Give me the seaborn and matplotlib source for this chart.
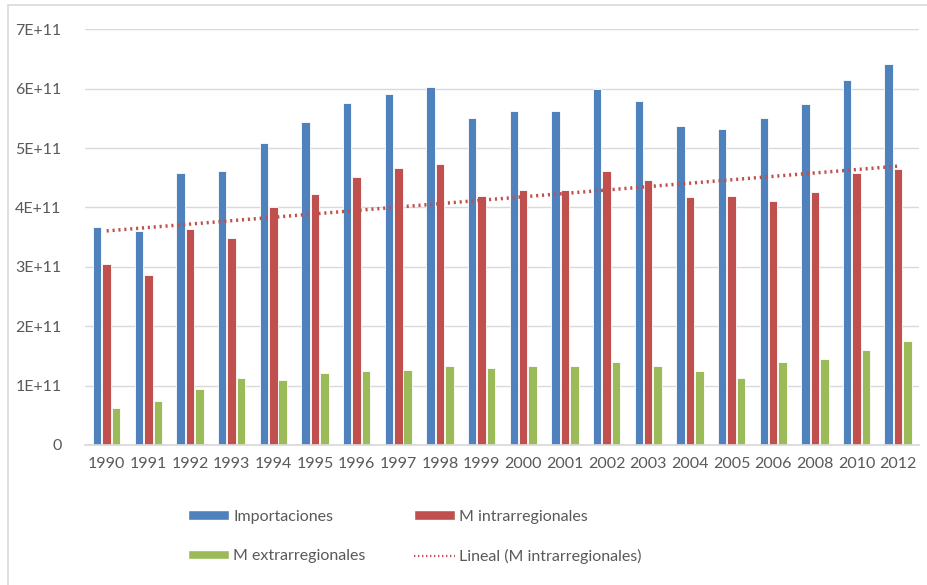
import numpy as np
import pandas as pd
import seaborn as sns
import matplotlib.pyplot as plt
from matplotlib.ticker import FuncFormatter, MultipleLocator
from matplotlib.patches import Rectangle, Patch
from matplotlib.lines import Line2D

years = ["1990", "1991", "1992", "1993", "1994", "1995", "1996", "1997", "1998", "1999",
         "2000", "2001", "2002", "2003", "2004", "2005", "2006", "2008", "2010", "2012"]
importaciones = [3.67, 3.61, 4.58, 4.61, 5.08, 5.44, 5.76, 5.91, 6.03, 5.50,
                 5.62, 5.62, 6.00, 5.80, 5.38, 5.32, 5.50, 5.74, 6.15, 6.42]
intrarregionales = [3.05, 2.87, 3.64, 3.49, 4.00, 4.23, 4.52, 4.67, 4.73, 4.20,
                    4.29, 4.29, 4.61, 4.46, 4.17, 4.20, 4.11, 4.26, 4.58, 4.64]
extrarregionales = [0.62, 0.735, 0.95, 1.12, 1.09, 1.21, 1.24, 1.27, 1.33, 1.30,
                    1.33, 1.33, 1.39, 1.33, 1.24, 1.12, 1.39, 1.45, 1.60, 1.75]
series_names = ["Importaciones", "M intrarregionales", "M extrarregionales"]
trend_label = "Lineal (M intrarregionales)"
scale = 1e11

colors = ["#4F81BD", "#C0504D", "#9BBB59"]
text_color = "#595959"

df = pd.DataFrame({
    "year": years * 3,
    "serie": np.repeat(series_names, len(years)),
    "value": np.array(importaciones + intrarregionales + extrarregionales) * scale,
})

sns.set_theme(style="white")
plt.rcParams["font.family"] = ["Lato", "DejaVu Sans"]

fig = plt.figure(figsize=(9.28, 5.85), dpi=100)
ax = fig.add_axes([85 / 928, 1 - 445 / 585, (919 - 85) / 928, (445 - 29.3) / 585])

sns.barplot(data=df, x="year", y="value", hue="serie", palette=colors,
            width=0.68, gap=0.1, edgecolor="white", linewidth=0.6,
            saturation=1, legend=False, ax=ax)

# linear trend of the intra-regional series across category positions
xi = np.arange(len(years))
sns.regplot(x=xi, y=np.array(intrarregionales) * scale, scatter=False, ci=None,
            truncate=True, ax=ax,
            line_kws=dict(color="#C0504D", lw=2.5, ls=(0, (0.6, 1.1)), zorder=5))

ax.set_xlim(-0.52, len(years) - 0.5)
ax.set_ylim(0, 7 * scale)
ax.yaxis.set_major_locator(MultipleLocator(scale))
ax.yaxis.set_major_formatter(FuncFormatter(
    lambda v, p: "0" if v == 0 else f"{int(round(v / scale))}E+11"))
ax.grid(axis="y", color="#D9D9D9", lw=1)
ax.set_axisbelow(True)
for s in ["top", "right", "left"]:
    ax.spines[s].set_visible(False)
ax.spines["bottom"].set_color("#D9D9D9")
ax.set_xlabel("")
ax.set_ylabel("")
ax.tick_params(axis="y", length=0, pad=17, labelsize=11.5, labelcolor=text_color)
ax.tick_params(axis="x", length=0, pad=9, labelsize=11.5, labelcolor=text_color)

handles = [
    Patch(facecolor=colors[0]), Patch(facecolor=colors[2]),
    Patch(facecolor=colors[1]),
    Line2D([], [], color="#C0504D", lw=1.6, ls=(0, (0.6, 1.2))),
]
labels = [series_names[0], series_names[2], series_names[1], trend_label]
fig.legend(handles, labels, ncol=2, loc="center", bbox_to_anchor=(0.447, 1 - 537 / 585),
           frameon=False, fontsize=11.5, labelcolor=text_color,
           handlelength=2.6, handleheight=0.5, handletextpad=0.25,
           columnspacing=3.0, labelspacing=1.6)

# chart frame
fig.patches.append(Rectangle((8 / 928, -0.05), 1.0, 1 - 5 / 585 + 0.05,
                             transform=fig.transFigure, fill=False,
                             edgecolor="#D9D9D9", lw=1.2))

fig.savefig("out.png", dpi=100)
